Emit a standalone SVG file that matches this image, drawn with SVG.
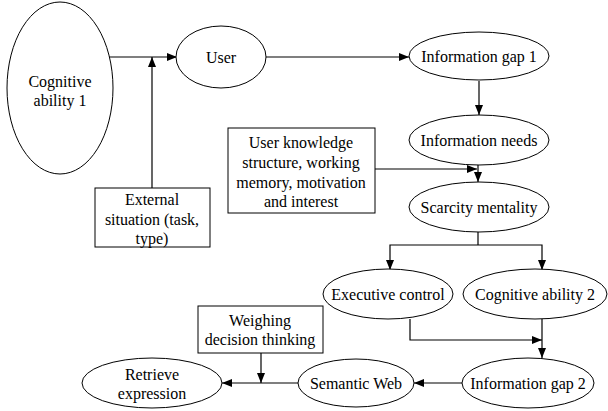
<svg xmlns="http://www.w3.org/2000/svg" width="608" height="411" viewBox="0 0 608 411">
<defs>
<marker id="ah" viewBox="0 0 10 8" refX="10" refY="4" markerWidth="10" markerHeight="8" markerUnits="userSpaceOnUse" orient="auto">
<path d="M0,0 L10,4 L0,8 Z" fill="#000"/>
</marker>
</defs>
<style>
.n{fill:#fff;stroke:#000;stroke-width:1}
.t{font-family:'Liberation Serif','DejaVu Serif',serif;font-size:16px;fill:#000;text-anchor:middle;dominant-baseline:central}
.c{fill:none;stroke:#000;stroke-width:1.2;marker-end:url(#ah)}
.l{fill:none;stroke:#000;stroke-width:1.2}
</style>
<rect width="608" height="411" fill="#fff"/>
<g id="connectors">
<path class="c" d="M108,57 H177"/>
<path class="c" d="M152,188 V57"/>
<path class="c" d="M266,57 H409"/>
<path class="c" d="M479,81 V115"/>
<path class="c" d="M478,164 V182"/>
<path class="c" d="M375,169 H477"/>
<path class="l" d="M478,232 V245"/>
<path class="c" d="M478,245 H390 V270"/>
<path class="c" d="M478,245 H542 V270"/>
<path class="c" d="M410,319 V340 H542"/>
<path class="c" d="M542,319 V358"/>
<path class="c" d="M463,383 H414"/>
<path class="c" d="M298,383 H222"/>
<path class="c" d="M261,353 V383"/>
</g>
<g id="cognitive1"><ellipse class="n" cx="60" cy="88" rx="53" ry="86"/><text class="t" x="60" y="81">Cognitive</text><text class="t" x="60" y="100">ability 1</text></g>
<g id="user"><ellipse class="n" cx="221" cy="57" rx="45" ry="31"/><text class="t" x="221" y="57">User</text></g>
<g id="external"><rect class="n" x="95" y="188" width="115" height="59"/><text class="t" x="152" y="199">External</text><text class="t" x="152" y="219">situation (task,</text><text class="t" x="152" y="238">type)</text></g>
<g id="gap1"><ellipse class="n" cx="479" cy="56" rx="70" ry="24"/><text class="t" x="479" y="56">Information gap 1</text></g>
<g id="needs"><ellipse class="n" cx="479" cy="140" rx="70" ry="25"/><text class="t" x="479" y="140">Information needs</text></g>
<g id="knowledge"><rect class="n" x="228" y="128" width="147" height="85"/><text class="t" x="301" y="142">User knowledge</text><text class="t" x="301" y="162">structure, working</text><text class="t" x="301" y="182">memory, motivation</text><text class="t" x="301" y="201">and interest</text></g>
<g id="scarcity"><ellipse class="n" cx="479" cy="207" rx="70" ry="25"/><text class="t" x="479" y="207">Scarcity mentality</text></g>
<g id="executive"><ellipse class="n" cx="388" cy="294" rx="65" ry="25"/><text class="t" x="388" y="294">Executive control</text></g>
<g id="cognitive2"><ellipse class="n" cx="535" cy="294" rx="72" ry="25"/><text class="t" x="535" y="294">Cognitive ability 2</text></g>
<g id="gap2"><ellipse class="n" cx="528" cy="383" rx="66" ry="25"/><text class="t" x="528" y="383">Information gap 2</text></g>
<g id="semantic"><ellipse class="n" cx="356" cy="383" rx="58" ry="24"/><text class="t" x="356" y="383">Semantic Web</text></g>
<g id="retrieve"><ellipse class="n" cx="152" cy="383" rx="70" ry="25"/><text class="t" x="152" y="374">Retrieve</text><text class="t" x="152" y="393">expression</text></g>
<g id="weighing"><rect class="n" x="198" y="306" width="125" height="47"/><text class="t" x="260" y="320">Weighing</text><text class="t" x="260" y="339">decision thinking</text></g>
</svg>
